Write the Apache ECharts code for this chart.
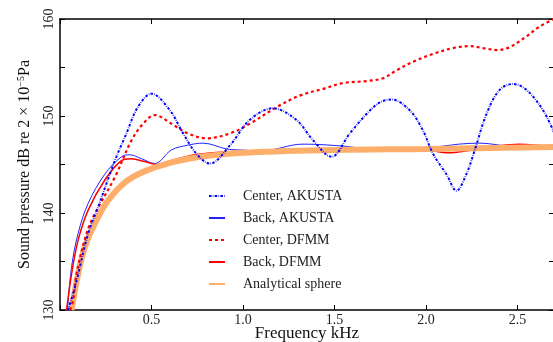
<!DOCTYPE html>
<html><head><meta charset="utf-8">
<script src="https://cdn.jsdelivr.net/npm/echarts@6/dist/echarts.min.js"></script>
<style>html,body{margin:0;padding:0;background:#fff}#c{width:553px;height:342px}</style>
</head><body><div id="c"></div>
<script>
const seriesNames = ['Center, AKUSTA','Back, AKUSTA','Center, DFMM','Back, DFMM','Analytical sphere'];
const xTicks = [0.5,1.0,1.5,2.0,2.5];
const yTicks = [130,140,150,160];

const centerAkustaF = [0.043,0.081,0.154,0.208,0.30,0.363,0.425,0.5,0.6,0.673,0.746,0.819,0.93,1.037,1.163,1.292,1.383,1.484,1.584,1.675,1.748,1.811,1.911,1.984,2.039,2.112,2.167,2.221,2.267,2.331,2.403,2.476,2.549,2.64,2.70];
const centerAkustaDB = [130,132.3,137.9,140.6,145.4,148.2,150.9,152.3,150.6,148.2,146.1,145.1,147.0,149.6,150.8,149.6,147.5,145.8,148.2,150.2,151.4,151.7,150.6,148.5,146.1,144.0,142.3,144.0,146.5,150.2,152.7,153.3,152.7,150.6,148.3];

const backAkustaF = [0.041,0.063,0.099,0.154,0.245,0.336,0.381,0.445,0.518,0.609,0.70,0.782,0.91,0.982,1.1,1.328,1.547,1.7,1.9,2.05,2.18,2.29,2.4,2.513,2.7];
const backAkustaDB = [130,134.4,137.9,141.0,144.0,145.8,146.0,145.6,145.1,146.5,147.0,147.2,146.6,146.5,146.4,147.1,146.9,146.6,146.7,146.8,147.1,147.2,147.0,146.6,146.6];

const centerDfmmF = [0.055,0.072,0.09,0.145,0.19,0.30,0.391,0.454,0.518,0.609,0.70,0.80,0.928,1.037,1.183,1.31,1.438,1.547,1.675,1.766,1.839,1.93,2.039,2.148,2.239,2.312,2.394,2.458,2.549,2.62,2.70];
const centerDfmmDB = [130,131,133.7,137.9,139.9,143.7,147.5,149.2,150.1,149.2,148.2,147.7,148.2,149.2,150.9,152.1,152.8,153.4,153.6,153.9,154.7,155.6,156.4,157.0,157.2,157.0,156.8,157.1,158.2,159.2,160.0];

const backDfmmF = [0.036,0.063,0.099,0.154,0.245,0.336,0.39,0.463,0.527,0.609,0.737,0.9,1.1,1.3,1.5,1.7,1.9,2.0,2.13,2.25,2.38,2.513,2.7];
const backDfmmDB = [130,133.7,137.2,140.3,143.4,145.4,145.6,145.3,145.0,145.4,146.0,146.3,146.4,146.4,146.5,146.5,146.6,146.5,146.2,146.5,146.9,147.1,146.8];

const sphereF = [0.063,0.099,0.136,0.19,0.263,0.372,0.518,0.7,1.0,1.5,2.0,2.7];
const sphereDB = [130,133.7,136.5,138.9,141.3,143.4,144.7,145.6,146.2,146.5,146.6,146.8];

const pairs = (f, d) => f.map((v, i) => [v, d[i]]);
const FONT = '"Liberation Serif", "DejaVu Serif", serif';

const chart = echarts.init(document.getElementById('c'), null, {renderer: 'canvas'});
chart.setOption({
  animation: false,
  backgroundColor: '#fff',
  grid: {left: 60, top: 19, width: 494, height: 291, containLabel: false, outerBoundsMode: 'none'},
  xAxis: [{
    type: 'value', min: 0, max: 2.7, interval: 0.5, position: 'bottom',
    name: 'Frequency kHz', nameLocation: 'middle', nameGap: 15, nameMoveOverlap: false,
    nameTextStyle: {fontFamily: FONT, fontSize: 17, color: '#111'},
    axisLine: {lineStyle: {color: '#000', width: 1.5}},
    axisTick: {inside: true, length: 5, lineStyle: {color: '#000'}},
    axisLabel: {fontFamily: FONT, fontSize: 14, color: '#222', margin: 3,
      formatter: v => xTicks.includes(Math.round(v*10)/10) ? v.toFixed(1) : ''},
    splitLine: {show: false}
  }, {
    type: 'value', min: 0, max: 2.7, interval: 0.5, position: 'top',
    axisLine: {show: true, onZero: false, lineStyle: {color: '#000', width: 1.5}},
    axisTick: {inside: true, length: 5, lineStyle: {color: '#000'}},
    axisLabel: {show: false}, splitLine: {show: false}
  }],
  yAxis: [{
    type: 'value', min: 130, max: 160, interval: 5, position: 'left',
    name: 'Sound pressure dB re 2 × 10{sup|−5}Pa', nameLocation: 'middle', nameGap: 26, nameRotate: 90,
    nameTextStyle: {fontFamily: FONT, fontSize: 16, color: '#111',
      rich: {sup: {fontFamily: FONT, fontSize: 10, color: '#111', verticalAlign: 'top', lineHeight: 18}}},
    axisLine: {show: true, onZero: false, lineStyle: {color: '#000', width: 1.5}},
    axisTick: {inside: true, length: 5, lineStyle: {color: '#000'}},
    axisLabel: {fontFamily: FONT, fontSize: 14, color: '#222', rotate: 90, margin: 4,
      formatter: v => yTicks.includes(v) ? String(v) : ''},
    splitLine: {show: false}
  }, {
    type: 'value', min: 130, max: 160, interval: 5, position: 'right',
    axisLine: {show: true, onZero: false, lineStyle: {color: '#000', width: 1.5}},
    axisTick: {inside: true, length: 5, lineStyle: {color: '#000'}},
    axisLabel: {show: false}, splitLine: {show: false}
  }],
  legend: {
    orient: 'vertical', left: 203, top: 184, itemWidth: 16, itemHeight: 14, itemGap: 8,
    itemStyle: {opacity: 0},
    textStyle: {fontFamily: FONT, fontSize: 14, color: '#222', padding: [0, 0, 0, 13]},
    data: seriesNames
  },
  series: [
    {name: seriesNames[0], type: 'line', symbol: 'none', smooth: 0.35, z: 5,
      data: pairs(centerAkustaF, centerAkustaDB),
      lineStyle: {color: '#0000ff', width: 2, type: [2.5, 1.3, 0.6, 1.3]}, itemStyle: {color: '#0000ff'}},
    {name: seriesNames[1], type: 'line', symbol: 'none', smooth: 0.35, z: 2,
      data: pairs(backAkustaF, backAkustaDB),
      lineStyle: {color: '#2222ff', width: 1}, itemStyle: {color: '#6666ff'}},
    {name: seriesNames[2], type: 'line', symbol: 'none', smooth: 0.35, z: 4,
      data: pairs(centerDfmmF, centerDfmmDB),
      lineStyle: {color: '#ff0000', width: 2.2, type: [3, 3]}, itemStyle: {color: '#ff0000'}},
    {name: seriesNames[3], type: 'line', symbol: 'none', smooth: 0.35, z: 2,
      data: pairs(backDfmmF, backDfmmDB),
      lineStyle: {color: '#ff0000', width: 1.5}, itemStyle: {color: '#ff0000'}},
    {name: seriesNames[4], type: 'line', symbol: 'none', smooth: 0.35, z: 3,
      data: pairs(sphereF, sphereDB),
      lineStyle: {color: '#fdae6b', width: 6}, itemStyle: {color: '#fdae6b'}}
  ]
});
</script></body></html>
